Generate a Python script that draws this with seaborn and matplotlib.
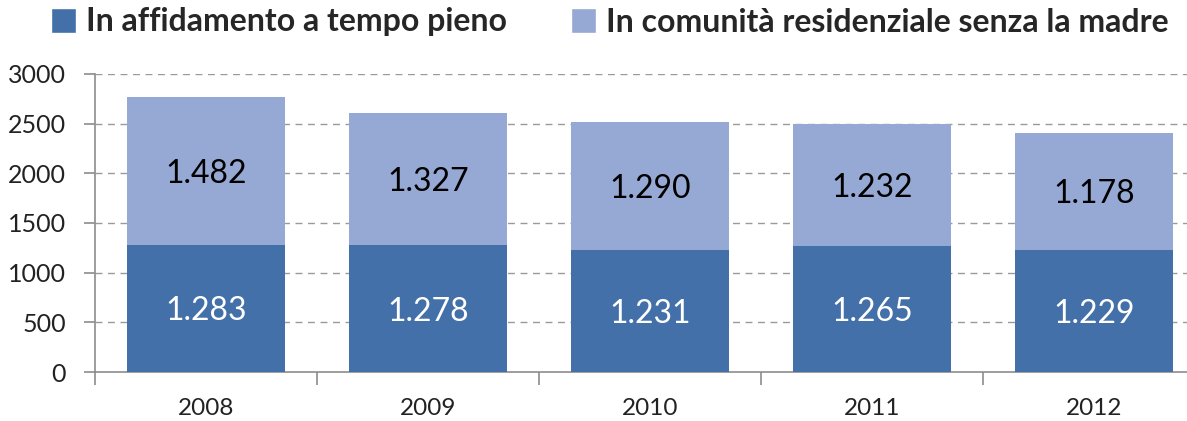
import pandas as pd
import seaborn as sns
import matplotlib.pyplot as plt
from matplotlib.patches import Patch

# Data
years = ["2008", "2009", "2010", "2011", "2012"]
full_time = [1283, 1278, 1231, 1265, 1229]
residential = [1482, 1327, 1290, 1232, 1178]
series_names = ["In affidamento a tempo pieno",
                "In comunità residenziale senza la madre"]
y_ticks = [0, 500, 1000, 1500, 2000, 2500, 3000]

DARK = "#4470aa"
LIGHT = "#95a9d4"
GRID = "#9a9a9a"

sns.set_style("white")
plt.rcParams['font.family'] = ['Lato', 'DejaVu Sans']

df = pd.DataFrame({"year": years, "full": full_time, "resid": residential})
df["total"] = df["full"] + df["resid"]

fig = plt.figure(figsize=(11.87, 4.21), dpi=100)
ax = fig.add_axes([95 / 1187, 49 / 421, 1110 / 1187, 298 / 421])

# stacked bars: total first (light), then bottom segment (dark) over it
sns.barplot(data=df, x="year", y="total", color=LIGHT, width=0.71,
            saturation=1, linewidth=0, ax=ax, zorder=3)
sns.barplot(data=df, x="year", y="full", color=DARK, width=0.71,
            saturation=1, linewidth=0, ax=ax, zorder=3)

ax.set_xlim(-0.5, 4.5)
ax.set_ylim(0, 3000)
ax.set_yticks(y_ticks)
ax.set_xlabel("")
ax.set_ylabel("")

# dashed grid
for v in y_ticks[1:]:
    ax.axhline(v, color=GRID, lw=1, ls=(0, (5, 4)), zorder=1)

for side in ["top", "right"]:
    ax.spines[side].set_visible(False)
for side in ["left", "bottom"]:
    ax.spines[side].set_color("#8c8c8c")
    ax.spines[side].set_linewidth(1.2)

ax.tick_params(axis="y", length=8, width=1.2, color="#8c8c8c", pad=13,
               labelsize=18, labelcolor="#222222", direction="out", left=True)
ax.set_xticks([i - 0.5 for i in range(6)], minor=True)
ax.tick_params(axis="x", which="minor", length=9, width=1.2, color="#8c8c8c",
               direction="out", bottom=True)
ax.tick_params(axis="x", which="major", length=0, pad=19, labelsize=17.5,
               labelcolor="#222222")

def fmt(v):
    return f"{v:,}".replace(",", ".")

for i in range(len(years)):
    f = df["full"][i]
    r = df["resid"][i]
    ax.text(i, f / 2, fmt(f), ha="center", va="center_baseline", color="white",
            fontsize=23, zorder=5)
    ax.text(i, f + r / 2, fmt(r), ha="center", va="center_baseline",
            color="black", fontsize=23, zorder=5)

handles = [Patch(facecolor=DARK), Patch(facecolor=LIGHT)]
fig.legend(handles, series_names, loc="center left",
           bbox_to_anchor=(38 / 1187, 1 - 22 / 421), ncol=2, frameon=False,
           prop={"size": 23, "weight": "bold"}, handlelength=0.8,
           handleheight=0.8, handletextpad=0.3, columnspacing=2.0,
           borderaxespad=0)

fig.savefig("out.png", dpi=100)
